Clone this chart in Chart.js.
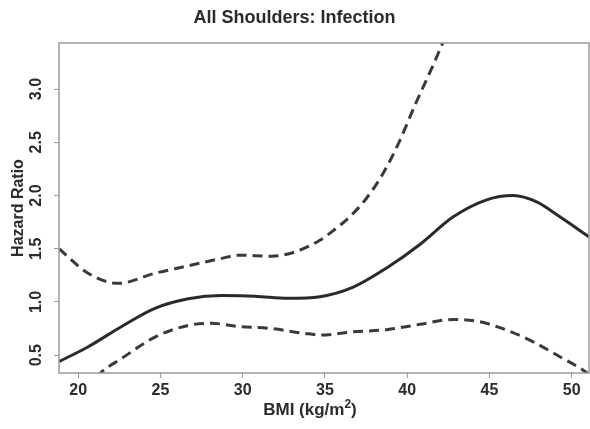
<!DOCTYPE html>
<html><head><meta charset="utf-8">
<script src="https://cdn.jsdelivr.net/npm/chart.js@4.4.1/dist/chart.umd.min.js"></script>
<style>html,body{margin:0;padding:0;background:#fff}canvas{display:block}</style>
</head><body>
<canvas id="c" width="590" height="429"></canvas>
<script>
const chartTitle = "All Shoulders: Infection";
const xTitle = "BMI (kg/m²)";
const yTitle = "Hazard Ratio";
const xTicks = [20, 25, 30, 35, 40, 45, 50];
const yTicks = [0.5, 1.0, 1.5, 2.0, 2.5, 3.0];
const xMin = 18.83, xMax = 51.05, yMin = 0.333, yMax = 3.433;

// estimate (solid)
const estX = [18.83, 20.61, 22.64, 24.66, 26.69, 28.72, 30.74, 32.77, 34.69, 36.72, 38.75, 40.77, 42.8, 44.83, 46.44, 47.87, 49.28, 51.06];
const estY = [0.44, 0.58, 0.77, 0.94, 1.03, 1.06, 1.055, 1.035, 1.05, 1.14, 1.32, 1.54, 1.80, 1.96, 2.00, 1.94, 1.80, 1.61];
// upper bound (dashed)
const upX = [18.83, 20.6, 22.43, 24.66, 26.69, 28.72, 29.73, 31.76, 33.17, 34.69, 35.5, 36.5, 37.5, 38.5, 39.5, 40.5, 41.5, 42.15, 43.0];
const upY = [1.50, 1.27, 1.175, 1.27, 1.34, 1.41, 1.44, 1.43, 1.47, 1.58, 1.67, 1.80, 1.97, 2.20, 2.50, 2.86, 3.20, 3.43, 3.73];
// lower bound (dashed)
const loX = [20.5, 21.35, 22.64, 24.66, 26.69, 28.1, 29.73, 31.76, 33.78, 34.8, 36.72, 38.75, 40.77, 42.8, 44.42, 46.04, 47.66, 49.28, 50.7, 51.3];
const loY = [0.18, 0.333, 0.47, 0.67, 0.78, 0.80, 0.77, 0.75, 0.705, 0.69, 0.72, 0.74, 0.79, 0.836, 0.814, 0.736, 0.626, 0.485, 0.36, 0.29];

const pts = (xs, ys) => xs.map((x, i) => ({x, y: ys[i]}));
const FONT = "'Liberation Sans', Arial, Helvetica, sans-serif";
const TXT = '#2b2b2b';
const AX = '#9a9a9a';

const framePlugin = {
  id: 'frame',
  afterDatasetsDraw(chart) {
    const {ctx, chartArea: a, scales} = chart;
    ctx.save();
    ctx.strokeStyle = AX;
    ctx.lineWidth = 1.5;
    ctx.strokeRect(a.left, a.top, a.right - a.left, a.bottom - a.top);
    // y tick labels, rotated (parallel to axis)
    ctx.fillStyle = TXT;
    ctx.font = "bold 16px " + FONT;
    ctx.textAlign = 'center';
    ctx.textBaseline = 'middle';
    yTicks.forEach(v => {
      const y = scales.y.getPixelForValue(v);
      ctx.save();
      ctx.translate(a.left - 22, y);
      ctx.rotate(-Math.PI / 2);
      ctx.fillText(v.toFixed(1), 0, 0);
      ctx.restore();
    });
    // x axis title with superscript
    const base = xTitle.split('²')[0].slice(0, -0) ;
    const pre = "BMI (kg/m", post = ")";
    ctx.font = "bold 17px " + FONT;
    const w1 = ctx.measureText(pre).width;
    ctx.font = "bold 12px " + FONT;
    const w2 = ctx.measureText("2").width;
    ctx.font = "bold 17px " + FONT;
    const w3 = ctx.measureText(post).width;
    const total = w1 + w2 + w3;
    let x0 = (a.left + a.right) / 2 - 14 - total / 2;
    const yb = 415;
    ctx.textAlign = 'left';
    ctx.textBaseline = 'alphabetic';
    ctx.fillText(pre, x0, yb);
    ctx.font = "bold 12px " + FONT;
    ctx.fillText("2", x0 + w1, yb - 7);
    ctx.font = "bold 17px " + FONT;
    ctx.fillText(post, x0 + w1 + w2, yb);
    ctx.restore();
  }
};

new Chart(document.getElementById('c'), {
  type: 'line',
  data: {
    datasets: [
      {label: 'HR', data: pts(estX, estY), borderColor: '#2a2a2a', borderWidth: 3, cubicInterpolationMode: 'monotone', pointRadius: 0, fill: false},
      {label: 'Upper', data: pts(upX, upY), borderColor: '#3a3a3a', borderWidth: 3, borderDash: [10, 6], cubicInterpolationMode: 'monotone', pointRadius: 0, fill: false},
      {label: 'Lower', data: pts(loX, loY), borderColor: '#3a3a3a', borderWidth: 3, borderDash: [10, 6], cubicInterpolationMode: 'monotone', pointRadius: 0, fill: false}
    ]
  },
  options: {
    responsive: false,
    animation: false,
    layout: {padding: {left: 0, right: 1, top: 0, bottom: 0}},
    plugins: {
      legend: {display: false},
      tooltip: {enabled: false},
      title: {display: true, text: chartTitle, color: TXT, font: {family: FONT, size: 18, weight: 'bold', lineHeight: 1.2}, padding: {top: 7, bottom: 14.4}}
    },
    scales: {
      x: {
        type: 'linear', min: xMin, max: xMax,
        afterBuildTicks: s => { s.ticks = xTicks.map(v => ({value: v})); },
        afterFit: s => { s.height = 56; },
        ticks: {color: TXT, font: {family: FONT, size: 16, weight: 'bold'}, padding: 3, maxRotation: 0, autoSkip: false, callback: v => String(v)},
        grid: {display: true, drawOnChartArea: false, drawTicks: true, tickLength: 5, tickColor: AX, color: AX},
        border: {display: false},
        title: {display: false}
      },
      y: {
        type: 'linear', min: yMin, max: yMax,
        afterBuildTicks: s => { s.ticks = yTicks.map(v => ({value: v})); },
        afterFit: s => { s.width = 59; },
        ticks: {display: false},
        grid: {display: true, drawOnChartArea: false, drawTicks: true, tickLength: 5, tickColor: AX, color: AX},
        border: {display: false},
        title: {display: true, text: yTitle, color: TXT, font: {family: FONT, size: 16, weight: 'bold', lineHeight: 1.2}, padding: {top: 9.4, bottom: 0}}
      }
    }
  },
  plugins: [framePlugin]
});
</script>
</body></html>
